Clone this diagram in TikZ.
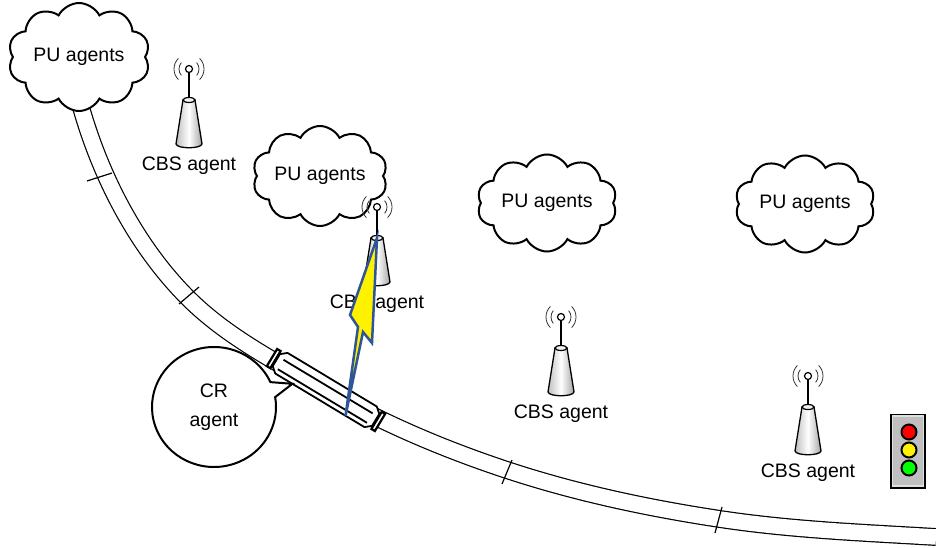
\documentclass[tikz,border=0pt]{standalone}
\usepackage{fontspec}
\setsansfont{Liberation Sans}
\usetikzlibrary{shapes.symbols,shapes.callouts}

\definecolor{boltblue}{HTML}{2F5597}

\tikzset{
  agentfont/.style={font=\sffamily\fontsize{19.5}{29}\selectfont},
  pu/.style={cloud, cloud puffs=10, cloud puff arc=125, cloud ignores aspect, draw,
    line width=2pt, fill=white, agentfont, inner sep=-4pt},
  rail/.style={line width=1.2pt, double=white, double distance=15.5pt},
  sleeper/.style={line width=1.2pt},
  wave/.style={line width=0.8pt, black!80},
  cone/.style={line width=1.3pt, left color=gray!50, right color=gray!70, middle color=white},
  train/.style={line width=1.8pt, fill=white, line join=round},
  bumper/.style={line width=2.2pt, fill=white},
  bolt/.style={line width=2.5pt, draw=boltblue, fill=yellow, line join=miter},
  lamp/.style={circle, draw, line width=2pt, minimum size=15pt, inner sep=0pt},
  cbs/.pic={
    \draw[wave] (140:10) arc[start angle=140, end angle=220, radius=10];
    \draw[wave] (135:15) arc[start angle=135, end angle=225, radius=15];
    \draw[wave] (-40:10) arc[start angle=-40, end angle=40, radius=10];
    \draw[wave] (-45:15) arc[start angle=-45, end angle=45, radius=15];
    \draw[line width=1.2pt] (0,3.5) -- (0,31);
    \draw[line width=1.2pt, fill=white] (0,0) circle[radius=3.5];
    \draw[cone] (-6,31) -- (-13,75) .. controls (-12,80) and (12,80) .. (13,75) -- (6,31) -- cycle;
    \draw[line width=1.2pt, fill=gray!10] (0,31) ellipse[x radius=6, y radius=2.5];
    \coordinate (-top) at (0,31);
    \node[agentfont] (-label) at (0,97) {CBS agent};
  }
}

\begin{document}
\begin{tikzpicture}[x=1pt, y=-1pt]
  \useasboundingbox (0,0) rectangle (936,548);

  % track
  \draw[rail] (79,100) .. controls (98.5,172.4) and (135,245) .. (188,298)
    .. controls (227,337) and (277.4,362.5) .. (325,390)
    .. controls (383,423.5) and (446.4,450.2) .. (510,471)
    .. controls (578.4,493.3) and (648.7,508.2) .. (720,519)
    .. controls (791.3,529.8) and (864,532.7) .. (936,537);
  \draw[sleeper] (87,181) -- (112,173);
  \draw[sleeper] (179,304) -- (199,287);
  \draw[sleeper] (502,484) -- (512,460);
  \draw[sleeper] (715,533) -- (722,507);

  \node[pu, minimum width=142pt, minimum height=108pt] (pu1) at (79,57) {PU agents};
  \node[pu, minimum width=135pt, minimum height=100pt] (pu2) at (320,176) {PU agents};
  \node[pu, minimum width=140pt, minimum height=97pt] (pu3) at (547,203) {PU agents};
  \node[pu, minimum width=140pt, minimum height=97pt] (pu4) at (805,204) {PU agents};
  \pic (t1) at (189,69) {cbs};
  \pic (t2) at (377,207) {cbs};
  \pic (t3) at (561,317) {cbs};
  \pic (t4) at (808,376) {cbs};

  % train on the rails
  \begin{scope}[shift={(326,390)}, rotate=-31]
    \draw[train] (-58,-7) -- (-52,-12) -- (52,-12) -- (58,-7) -- (58,7) -- (52,12)
      -- (-52,12) -- (-58,7) -- cycle;
    \draw[train] (-52,-4) -- (52,-4);
    \draw[train] (-52,7) -- (52,7);
    \draw[bumper] (-63,-10) rectangle (-59,10);
    \draw[bumper] (59,-10) rectangle (63,10);
    \coordinate (hit) at (30,12);
    \coordinate (tail) at (-32,12);
  \end{scope}

  \node[ellipse callout, draw, line width=2pt, fill=white, agentfont, align=center,
    minimum width=124pt, minimum height=120pt, callout absolute pointer={(tail)}]
    (cr) at (214,407) {CR\\agent};

  \draw[bolt] (t2-top) -- (372,343) -- (363,332) -- (hit) -- (358,327) -- (350,315) -- cycle;

  % traffic light
  \node[draw, line width=2pt, fill=gray!50, minimum width=34pt, minimum height=73pt,
    inner sep=0pt] (tl) at (908,451) {};
  \draw[gray!25, line width=1.5pt] ([shift={(2.5,2.5)}]tl.north west)
    rectangle ([shift={(-2.5,-2.5)}]tl.south east);
  \foreach \c/\y [count=\i] in {red/432, yellow/450, green/468}
    \node[lamp, fill=\c] (lamp\i) at (909,\y) {};
\end{tikzpicture}
\end{document}
